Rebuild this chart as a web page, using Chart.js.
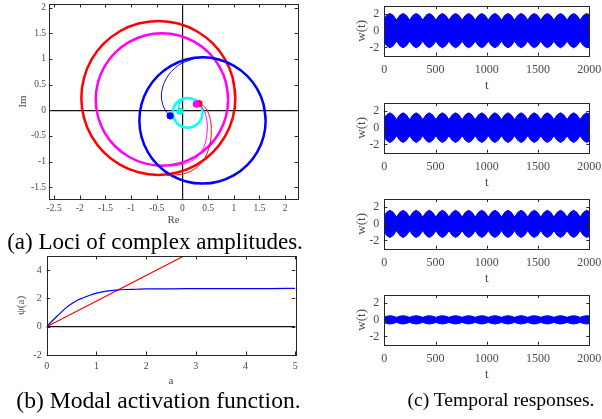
<!DOCTYPE html>
<html><head><meta charset="utf-8">
<script src="https://cdn.jsdelivr.net/npm/chart.js@4.4.1/dist/chart.umd.min.js"></script>
<style>
html,body{margin:0;padding:0;background:#fff;width:602px;height:419px;overflow:hidden;position:relative}
canvas{position:absolute}
.cap{position:absolute;font-family:"Liberation Serif","Times New Roman",serif;color:#000;white-space:nowrap;line-height:1;text-align:center}
</style></head><body>
<canvas id="ca" width="310" height="232" style="left:0;top:0"></canvas>
<canvas id="cb" width="310" height="140" style="left:0;top:250px"></canvas>
<canvas id="c1" width="272" height="96" style="left:330px;top:-2px"></canvas>
<canvas id="c2" width="272" height="96" style="left:330px;top:94.7px"></canvas>
<canvas id="c3" width="272" height="96" style="left:330px;top:190.5px"></canvas>
<canvas id="c4" width="272" height="96" style="left:330px;top:286.5px"></canvas>
<div class="cap" style="left:0;width:310px;top:229.7px;font-size:23px">(a) Loci of complex amplitudes.</div>
<div class="cap" style="left:0;width:317px;top:388.5px;font-size:23.6px">(b) Modal activation function.</div>
<div class="cap" style="left:400px;width:202px;top:389.5px;font-size:19.6px">(c) Temporal responses.</div>
<script>
// ---------- (a) Loci of complex amplitudes (Re, Im) ----------
const A_xTicks = [-2.5,-2,-1.5,-1,-0.5,0,0.5,1,1.5,2];
const A_yTicks = [-1.5,-1,-0.5,0,0.5,1,1.5,2];
const redLocus = [[1.03,0.24],[0.979,0.628],[0.829,0.99],[0.591,1.301],[0.28,1.539],[-0.082,1.689],[-0.47,1.74],[-0.858,1.689],[-1.22,1.539],[-1.531,1.301],[-1.769,0.99],[-1.919,0.628],[-1.97,0.24],[-1.919,-0.148],[-1.769,-0.51],[-1.531,-0.821],[-1.22,-1.059],[-0.858,-1.209],[-0.47,-1.26],[-0.082,-1.209],[0.28,-1.059],[0.591,-0.821],[0.829,-0.51],[0.979,-0.148],[1.03,0.24],[0.979,0.628]];
const magentaLocus = [[0.89,0.21],[0.846,0.544],[0.717,0.855],[0.512,1.122],[0.245,1.327],[-0.066,1.456],[-0.40,1.50],[-0.734,1.456],[-1.045,1.327],[-1.312,1.122],[-1.517,0.855],[-1.646,0.544],[-1.69,0.21],[-1.646,-0.124],[-1.517,-0.435],[-1.312,-0.702],[-1.045,-0.907],[-0.734,-1.036],[-0.40,-1.08],[-0.066,-1.036],[0.245,-0.907],[0.512,-0.702],[0.717,-0.435],[0.846,-0.124],[0.89,0.21],[0.846,0.544]];
const blueLocus = [[1.62,-0.2],[1.578,0.118],[1.455,0.415],[1.26,0.67],[1.005,0.865],[0.708,0.988],[0.39,1.03],[0.072,0.988],[-0.225,0.865],[-0.48,0.67],[-0.675,0.415],[-0.798,0.118],[-0.84,-0.2],[-0.798,-0.518],[-0.675,-0.815],[-0.48,-1.07],[-0.225,-1.265],[0.072,-1.388],[0.39,-1.43],[0.708,-1.388],[1.005,-1.265],[1.26,-1.07],[1.455,-0.815],[1.578,-0.518],[1.62,-0.2],[1.578,0.118]];
const cyanLocus = [[0.39,-0.05],[0.38,0.025],[0.351,0.095],[0.305,0.155],[0.245,0.201],[0.175,0.23],[0.1,0.24],[0.025,0.23],[-0.045,0.201],[-0.105,0.155],[-0.151,0.095],[-0.18,0.025],[-0.19,-0.05],[-0.18,-0.125],[-0.151,-0.195],[-0.105,-0.255],[-0.045,-0.301],[0.025,-0.33],[0.1,-0.34],[0.175,-0.33],[0.245,-0.301],[0.305,-0.255],[0.351,-0.195],[0.38,-0.125],[0.39,-0.05],[0.38,0.025]];
const blueTransient = [[-0.24,-0.11],[-0.30,-0.05],[-0.36,0.05],[-0.40,0.17],[-0.41,0.30],[-0.39,0.43],[-0.34,0.57],[-0.26,0.70],[-0.16,0.81],[-0.04,0.90],[0.10,0.96],[0.26,1.01],[0.45,1.03]];
const redTransient = [[0.32,0.13],[0.39,0.10],[0.46,0.03],[0.51,-0.07],[0.55,-0.22],[0.56,-0.40],[0.55,-0.57],[0.51,-0.75],[0.44,-0.92],[0.34,-1.06],[0.21,-1.16],[0.06,-1.23],[-0.11,-1.26],[-0.30,-1.27]];
const magentaTransient = [[0.27,0.12],[0.34,0.09],[0.41,0.02],[0.45,-0.09],[0.48,-0.24],[0.48,-0.41],[0.46,-0.57],[0.41,-0.73],[0.33,-0.86],[0.22,-0.96],[0.08,-1.03],[-0.08,-1.07],[-0.25,-1.09]];
const cyanTransient = [[-0.05,-0.02],[-0.07,0.04],[-0.07,0.10],[-0.04,0.16],[0.02,0.21]];
const startPoints = {blue:[-0.24,-0.11], cyan:[-0.05,-0.02], magenta:[0.27,0.12], red:[0.32,0.13]};

// ---------- (b) Modal activation function ----------
const B_xTicks = [0,1,2,3,4,5];
const B_yTicks = [-2,0,2,4];
const aVals   = [0,0.1,0.2,0.3,0.4,0.5,0.6,0.7,0.8,0.9,1.0,1.2,1.4,1.6,1.8,2.0,2.5,3.0,3.5,4.0,4.5,5.0];
const psiVals = [0,0.37,0.72,1.05,1.37,1.63,1.84,2.00,2.14,2.26,2.37,2.51,2.59,2.63,2.65,2.67,2.68,2.69,2.70,2.70,2.70,2.71];
const redLineA = [0,2.76];
const redLineY = [0,5];

// ---------- (c) Temporal responses (envelopes of w(t)) ----------
const C_xTicks = [0,500,1000,1500,2000];
const C_yTicks = [-2,0,2];
const tEnv = [0,23,55,87,119,151,183,215,247,279,311,343,375,407,439,471,503,535,567,599,631,663,695,727,759,791,823,855,887,919,951,983,1015,1047,1079,1111,1143,1175,1207,1239,1271,1303,1335,1367,1399,1431,1463,1495,1527,1559,1591,1623,1655,1687,1719,1751,1783,1815,1847,1879,1911,1943,1975,2000];
const w1Up = [1.45,1.87,2.10,1.87,1.30,1.87,2.10,1.87,1.30,1.87,2.10,1.87,1.30,1.87,2.10,1.87,1.30,1.87,2.10,1.87,1.30,1.87,2.10,1.87,1.30,1.87,2.10,1.87,1.30,1.87,2.10,1.87,1.30,1.87,2.10,1.87,1.30,1.87,2.10,1.87,1.30,1.87,2.10,1.87,1.30,1.87,2.10,1.87,1.30,1.87,2.10,1.87,1.30,1.87,2.10,1.87,1.30,1.87,2.10,1.87,1.30,1.87,2.10,1.95];
const w1Lo = [-1.40,-1.80,-2.05,-1.80,-1.25,-1.80,-2.05,-1.80,-1.25,-1.80,-2.05,-1.80,-1.25,-1.80,-2.05,-1.80,-1.25,-1.80,-2.05,-1.80,-1.25,-1.80,-2.05,-1.80,-1.25,-1.80,-2.05,-1.80,-1.25,-1.80,-2.05,-1.80,-1.25,-1.80,-2.05,-1.80,-1.25,-1.80,-2.05,-1.80,-1.25,-1.80,-2.05,-1.80,-1.25,-1.80,-2.05,-1.80,-1.25,-1.80,-2.05,-1.80,-1.25,-1.80,-2.05,-1.80,-1.25,-1.80,-2.05,-1.80,-1.25,-1.80,-2.05,-1.90];
const w2Up = [1.15,1.57,1.82,1.57,1.00,1.57,1.82,1.57,1.00,1.57,1.82,1.57,1.00,1.57,1.82,1.57,1.00,1.57,1.82,1.57,1.00,1.57,1.82,1.57,1.00,1.57,1.82,1.57,1.00,1.57,1.82,1.57,1.00,1.57,1.82,1.57,1.00,1.57,1.82,1.57,1.00,1.57,1.82,1.57,1.00,1.57,1.82,1.57,1.00,1.57,1.82,1.57,1.00,1.57,1.82,1.57,1.00,1.57,1.82,1.57,1.00,1.57,1.82,1.65];
const w2Lo = [-1.10,-1.52,-1.77,-1.52,-0.95,-1.52,-1.77,-1.52,-0.95,-1.52,-1.77,-1.52,-0.95,-1.52,-1.77,-1.52,-0.95,-1.52,-1.77,-1.52,-0.95,-1.52,-1.77,-1.52,-0.95,-1.52,-1.77,-1.52,-0.95,-1.52,-1.77,-1.52,-0.95,-1.52,-1.77,-1.52,-0.95,-1.52,-1.77,-1.52,-0.95,-1.52,-1.77,-1.52,-0.95,-1.52,-1.77,-1.52,-0.95,-1.52,-1.77,-1.52,-0.95,-1.52,-1.77,-1.52,-0.95,-1.52,-1.77,-1.52,-0.95,-1.52,-1.77,-1.60];
const w3Up = [0.97,1.40,1.65,1.40,0.82,1.40,1.65,1.40,0.82,1.40,1.65,1.40,0.82,1.40,1.65,1.40,0.82,1.40,1.65,1.40,0.82,1.40,1.65,1.40,0.82,1.40,1.65,1.40,0.82,1.40,1.65,1.40,0.82,1.40,1.65,1.40,0.82,1.40,1.65,1.40,0.82,1.40,1.65,1.40,0.82,1.40,1.65,1.40,0.82,1.40,1.65,1.40,0.82,1.40,1.65,1.40,0.82,1.40,1.65,1.40,0.82,1.40,1.65,1.48];
const w3Lo = [-0.97,-1.40,-1.65,-1.40,-0.82,-1.40,-1.65,-1.40,-0.82,-1.40,-1.65,-1.40,-0.82,-1.40,-1.65,-1.40,-0.82,-1.40,-1.65,-1.40,-0.82,-1.40,-1.65,-1.40,-0.82,-1.40,-1.65,-1.40,-0.82,-1.40,-1.65,-1.40,-0.82,-1.40,-1.65,-1.40,-0.82,-1.40,-1.65,-1.40,-0.82,-1.40,-1.65,-1.40,-0.82,-1.40,-1.65,-1.40,-0.82,-1.40,-1.65,-1.40,-0.82,-1.40,-1.65,-1.40,-0.82,-1.40,-1.65,-1.40,-0.82,-1.40,-1.65,-1.48];
const w4Up = [0.33,0.44,0.50,0.44,0.30,0.44,0.50,0.44,0.30,0.44,0.50,0.44,0.30,0.44,0.50,0.44,0.30,0.44,0.50,0.44,0.30,0.44,0.50,0.44,0.30,0.44,0.50,0.44,0.30,0.44,0.50,0.44,0.30,0.44,0.50,0.44,0.30,0.44,0.50,0.44,0.30,0.44,0.50,0.44,0.30,0.44,0.50,0.44,0.30,0.44,0.50,0.44,0.30,0.44,0.50,0.44,0.30,0.44,0.50,0.44,0.30,0.44,0.50,0.46];
const w4Lo = [-0.33,-0.44,-0.50,-0.44,-0.30,-0.44,-0.50,-0.44,-0.30,-0.44,-0.50,-0.44,-0.30,-0.44,-0.50,-0.44,-0.30,-0.44,-0.50,-0.44,-0.30,-0.44,-0.50,-0.44,-0.30,-0.44,-0.50,-0.44,-0.30,-0.44,-0.50,-0.44,-0.30,-0.44,-0.50,-0.44,-0.30,-0.44,-0.50,-0.44,-0.30,-0.44,-0.50,-0.44,-0.30,-0.44,-0.50,-0.44,-0.30,-0.44,-0.50,-0.44,-0.30,-0.44,-0.50,-0.44,-0.30,-0.44,-0.50,-0.44,-0.30,-0.44,-0.50,-0.46];

// ---------- helpers ----------
const SERIF = '"Liberation Serif","Times New Roman",serif';
const TICKC = '#4a4a4a';
const BOXC = '#262626';

const boxPlugin = {
  id: 'boxTicks',
  afterDatasetsDraw(chart, args, o) {
    const {ctx, chartArea: a} = chart;
    const xs = chart.scales.x, ys = chart.scales.y;
    const L = o.len || 3;
    ctx.save();
    ctx.strokeStyle = BOXC;
    ctx.lineWidth = 1;
    ctx.beginPath();
    for (const t of xs.ticks) {
      const p = Math.round(xs.getPixelForValue(t.value)) + 0.5;
      ctx.moveTo(p, a.bottom); ctx.lineTo(p, a.bottom - L);
      ctx.moveTo(p, a.top); ctx.lineTo(p, a.top + L);
    }
    for (const t of ys.ticks) {
      const p = Math.round(ys.getPixelForValue(t.value)) + 0.5;
      ctx.moveTo(a.left, p); ctx.lineTo(a.left + L, p);
      ctx.moveTo(a.right, p); ctx.lineTo(a.right - L, p);
    }
    ctx.stroke();
    ctx.strokeRect(Math.round(a.left) + 0.5, Math.round(a.top) + 0.5, Math.round(a.right - a.left), Math.round(a.bottom - a.top));
    ctx.restore();
  }
};

function zeroGrid(c) { return (c.tick && c.tick.value === 0) ? '#111' : 'rgba(0,0,0,0)'; }

function axis(opt) {
  return {
    type: 'linear',
    position: opt.horizontal ? 'bottom' : 'left',
    min: opt.min, max: opt.max,
    afterBuildTicks: s => { s.ticks = opt.ticks.map(v => ({value: v})); },
    afterFit: s => {
      if (opt.horizontal) { s.height = opt.size; s.paddingLeft = 0; s.paddingRight = 0; }
      else { s.width = opt.size; s.paddingTop = 0; s.paddingBottom = 0; }
    },
    border: {display: false},
    grid: {display: !!opt.zero, drawTicks: false, color: zeroGrid, lineWidth: 1.2},
    ticks: {
      autoSkip: false, maxRotation: 0, padding: opt.tickPad, color: TICKC,
      font: {family: SERIF, size: opt.fontSize},
      callback: v => String(v)
    },
    title: {
      display: true, text: opt.title, color: TICKC,
      font: {family: SERIF, size: opt.titleSize, lineHeight: 1.2},
      padding: opt.titlePad
    }
  };
}

function baseOptions(pad, xs, ys, tickLen) {
  return {
    responsive: false, animation: false, devicePixelRatio: 1,
    layout: {padding: pad},
    plugins: {legend: {display: false}, tooltip: {enabled: false}, boxTicks: {len: tickLen}},
    elements: {point: {radius: 0}, line: {capBezierPoints: false}},
    scales: {x: xs, y: ys}
  };
}

const pairs = arr => arr.map(p => ({x: p[0], y: p[1]}));
const loc = (data, color, w, order, tension) => ({data: pairs(data), borderColor: color, borderWidth: w, pointRadius: 0, tension: tension, fill: false, order: order, borderJoinStyle: 'round'});
const dot = (p, color) => ({data: [{x: p[0], y: p[1]}], pointRadius: 3.6, pointBackgroundColor: color, pointBorderColor: color, pointBorderWidth: 0, showLine: false, order: 0});

// ---------- Chart (a) ----------
new Chart(document.getElementById('ca'), {
  type: 'line',
  data: {datasets: [
    dot(startPoints.blue, '#0000ff'),
    dot(startPoints.cyan, '#00f0f0'),
    dot(startPoints.magenta, '#ff00ff'),
    dot(startPoints.red, '#ff0000'),
    loc(blueTransient, '#0000ff', 1, 1, 0.4),
    loc(redTransient, '#ff0000', 1, 1, 0.4),
    loc(magentaTransient, '#ff00ff', 1, 1, 0.4),
    loc(cyanTransient, '#00ffff', 1.5, 1, 0.4),
    loc(cyanLocus, '#00ffff', 2.5, 2, 0.4),
    loc(blueLocus, '#0000ff', 2.5, 2, 0.4),
    loc(magentaLocus, '#ff00ff', 2.5, 3, 0.4),
    loc(redLocus, '#ff0000', 2.5, 4, 0.4)
  ]},
  options: baseOptions({top: 4, right: 12, left: 0, bottom: 0},
    axis({horizontal: true, min: -2.6, max: 2.25, ticks: A_xTicks, size: 33, fontSize: 9.5, tickPad: 4, title: 'Re', titleSize: 11, titlePad: {top: 0, bottom: 5}, zero: true}),
    axis({horizontal: false, min: -1.73, max: 2.07, ticks: A_yTicks, size: 49, fontSize: 9.5, tickPad: 3, title: 'Im', titleSize: 11, titlePad: {top: 17, bottom: 0}, zero: true}),
    3.5),
  plugins: [boxPlugin]
});

// ---------- Chart (b) ----------
new Chart(document.getElementById('cb'), {
  type: 'line',
  data: {datasets: [
    {data: aVals.map((a, i) => ({x: a, y: psiVals[i]})), borderColor: '#0000ff', borderWidth: 1.2, cubicInterpolationMode: 'monotone', pointRadius: 0, fill: false},
    {data: redLineA.map((a, i) => ({x: a, y: redLineY[i]})), borderColor: '#ff0000', borderWidth: 1.2, pointRadius: 0, fill: false}
  ]},
  options: baseOptions({top: 6, right: 14.7, left: 0, bottom: 0},
    axis({horizontal: true, min: 0, max: 5, ticks: B_xTicks, size: 35, fontSize: 10, tickPad: 5, title: 'a', titleSize: 11, titlePad: {top: 0, bottom: 2}}),
    axis({horizontal: false, min: -2, max: 5, ticks: B_yTicks, size: 46.7, fontSize: 10, tickPad: 5, title: 'ψ(a)', titleSize: 11, titlePad: {top: 15, bottom: 0}, zero: true}),
    3.5),
  plugins: [boxPlugin]
});

// ---------- Charts (c) ----------
function tempChart(id, up, lo) {
  new Chart(document.getElementById(id), {
    type: 'line',
    data: {datasets: [
      {data: tEnv.map((t, i) => ({x: t, y: up[i]})), borderColor: '#0000ff', backgroundColor: '#0000ff', borderWidth: 1, tension: 0, pointRadius: 0, fill: '+1'},
      {data: tEnv.map((t, i) => ({x: t, y: lo[i]})), borderColor: '#0000ff', borderWidth: 1, tension: 0, pointRadius: 0, fill: false}
    ]},
    options: baseOptions({top: 8, right: 12.7, left: 0, bottom: 0},
      axis({horizontal: true, min: 0, max: 2000, ticks: C_xTicks, size: 38.3, fontSize: 12, tickPad: 7, title: 't', titleSize: 13, titlePad: {top: 0, bottom: 1}}),
      axis({horizontal: false, min: -3, max: 3, ticks: C_yTicks, size: 54.3, fontSize: 12, tickPad: 5, title: 'w(t)', titleSize: 13, titlePad: {top: 24, bottom: 0}}),
      3),
    plugins: [boxPlugin]
  });
}
tempChart('c1', w1Up, w1Lo);
tempChart('c2', w2Up, w2Lo);
tempChart('c3', w3Up, w3Lo);
tempChart('c4', w4Up, w4Lo);
</script>
</body></html>
